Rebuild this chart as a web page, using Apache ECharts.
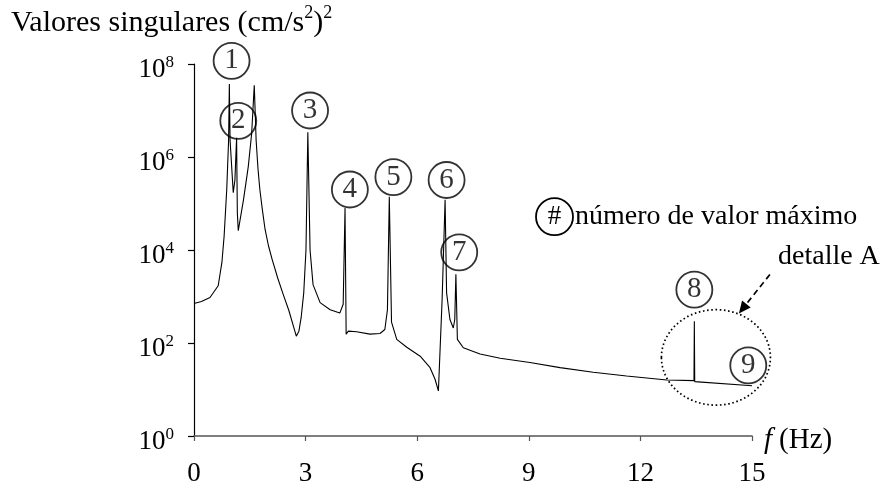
<!DOCTYPE html>
<html>
<head>
<meta charset="utf-8">
<script src="https://cdn.jsdelivr.net/npm/echarts@6/dist/echarts.min.js"></script>
<style>
  html, body { margin: 0; padding: 0; background: #fff; }
  #chart { width: 888px; height: 487px; }
</style>
</head>
<body>
<div id="chart"></div>
<script>
// ---- data ----
const freq = [0, 0.2, 0.43, 0.65, 0.75, 0.81, 0.88, 0.93, 0.95, 0.97, 1.055, 1.10, 1.145, 1.165, 1.19,
  1.33, 1.46, 1.55, 1.62, 1.67, 1.72, 1.77, 1.84, 1.91, 2.0, 2.1, 2.25, 2.4, 2.55, 2.68, 2.75, 2.82, 2.88, 2.95, 3.01, 3.06,
  3.12, 3.2, 3.39, 3.66, 3.92, 4.01, 4.06, 4.09, 4.15, 4.37, 4.73, 5.0, 5.13, 5.2, 5.25, 5.31,
  5.45, 5.72, 6.08, 6.34, 6.48, 6.57, 6.67, 6.75, 6.79, 6.88, 6.97, 7.01, 7.04, 7.08, 7.24,
  7.69, 8.23, 9.03, 9.84, 10.73, 11.63, 12.71, 13.44, 13.45, 13.46, 15];
const value = [710, 780, 950, 1700, 5400, 2.0e4, 2.0e5, 2.3e6, 3.7e7, 2.3e6, 1.7e5, 3.2e5, 2.6e6, 6.3e4, 2.6e4,
  1.2e5, 6.3e5, 3.2e6, 3.5e7, 2.3e6, 5.6e5, 2.0e5, 7.1e4, 2.8e4, 1.25e4, 6.3e3, 2.5e3, 1.1e3, 500, 220, 140, 180, 350, 1.2e3, 1.0e4, 3.4e6,
  1.0e4, 1800, 740, 520, 440, 680, 8.0e4, 155, 180, 175, 155, 160, 195, 520, 1.4e5, 280,
  120, 81, 52, 30, 16.6, 9.3, 870, 1.2e5, 1200, 320, 210, 320, 3000, 120, 79,
  58, 47, 38, 29.5, 23.5, 19.5, 16, 15.5, 295, 14.8, 12];

const markNames = ['1', '2', '3', '4', '5', '6', '7', '8', '9'];
const markFreq  = [1.01, 1.19, 3.12, 4.19, 5.36, 6.79, 7.13, 13.45, 14.9];
const markValue = [1.17e8, 6.0e6, 1.0e7, 2.0e5, 3.7e5, 3.2e5, 8.9e3, 1.4e3, 33];

const xTicks = [0, 3, 6, 9, 12, 15];
const yExponents = [0, 2, 4, 6, 8];

const detailCenter = [14.03, 49];   // centre of "detalle A" region (data coords)

const FONT = '"Liberation Serif", "Times New Roman", serif';

const chart = echarts.init(document.getElementById('chart'), null, { renderer: 'canvas' });

const option = {
  animation: false,
  backgroundColor: '#fff',
  grid: { left: 194, right: 136, top: 64, bottom: 50 },
  xAxis: {
    type: 'value',
    min: xTicks[0],
    max: xTicks[xTicks.length - 1],
    interval: xTicks[1] - xTicks[0],
    axisLine: { show: true, onZero: false, lineStyle: { color: '#555', width: 1.5 } },
    axisTick: { show: true, length: 5, lineStyle: { color: '#555', width: 1.2 } },
    axisLabel: { margin: 24, fontFamily: FONT, fontSize: 27, color: '#000' },
    splitLine: { show: false }
  },
  yAxis: {
    type: 'log',
    logBase: 10,
    min: Math.pow(10, yExponents[0]),
    max: Math.pow(10, yExponents[yExponents.length - 1]),
    interval: yExponents[1] - yExponents[0],
    axisLine: { show: true, lineStyle: { color: '#000', width: 1.2 } },
    axisTick: { show: true, length: 6, lineStyle: { color: '#000', width: 1.2 } },
    axisLabel: {
      margin: 20,
      padding: [12, 0, 0, 0],
      fontFamily: FONT,
      fontSize: 26,
      color: '#000',
      formatter: function (v) {
        return '{b|10}{s|' + Math.round(Math.log10(v)) + '}';
      },
      rich: {
        b: { fontFamily: FONT, fontSize: 27, lineHeight: 32, color: '#000' },
        s: { fontFamily: FONT, fontSize: 17, lineHeight: 16, verticalAlign: 'top', color: '#000' }
      }
    },
    splitLine: { show: false }
  },
  series: [
    {
      type: 'line',
      data: freq.map((f, i) => [f, value[i]]),
      showSymbol: false,
      symbol: 'none',
      lineStyle: { color: '#000', width: 1.1 },
      z: 2
    },
    {
      type: 'scatter',
      clip: false,
      data: markFreq.map((f, i) => ({ value: [f, markValue[i]], name: markNames[i] })),
      symbol: 'circle',
      symbolSize: 36,
      itemStyle: { color: 'rgba(0,0,0,0)', borderColor: '#000', borderWidth: 1.8 },
      label: {
        show: true,
        position: 'inside',
        formatter: p => p.name,
        fontFamily: FONT,
        fontSize: 29,
        color: '#000'
      },
      z: 3
    }
  ]
};
chart.setOption(option);

const c = chart.convertToPixel({ gridIndex: 0 }, detailCenter);
const cx = c[0], cy = c[1];
const tail = [cx + 54, cy - 83];
const tip = [cx + 23, cy - 44];
const ang = Math.atan2(tip[1] - tail[1], tip[0] - tail[0]);
const hl = 12, hw = 5.5;
const base = [tip[0] - hl * Math.cos(ang), tip[1] - hl * Math.sin(ang)];
const p1 = [base[0] + hw * Math.sin(ang), base[1] - hw * Math.cos(ang)];
const p2 = [base[0] - hw * Math.sin(ang), base[1] + hw * Math.cos(ang)];

chart.setOption({
  graphic: [
    {
      type: 'text', left: 11, top: 4,
      style: {
        text: '{b|Valores singulares (cm/s}{s|2}{b|)}{s|2}',
        rich: {
          b: { fontFamily: FONT, fontSize: 30, lineHeight: 38, fill: '#000' },
          s: { fontFamily: FONT, fontSize: 18, lineHeight: 18, verticalAlign: 'top', fill: '#000' }
        }
      }
    },
    {
      type: 'text', left: 764, top: 426,
      style: {
        text: '{i|f}{b|(Hz)}',
        rich: {
          i: { fontFamily: FONT, fontSize: 29, fontStyle: 'italic', fill: '#000' },
          b: { fontFamily: FONT, fontSize: 29, fill: '#000', padding: [0, 0, 0, 7] }
        }
      }
    },
    {
      type: 'circle', shape: { cx: 554.5, cy: 216.7, r: 18.5 },
      style: { fill: 'none', stroke: '#000', lineWidth: 1.8 }
    },
    {
      type: 'text', x: 554.5, y: 217,
      style: { text: '#', fontFamily: FONT, fontSize: 27, fill: '#000', align: 'center', verticalAlign: 'middle' }
    },
    {
      type: 'text', x: 575, y: 217,
      style: { text: 'número de valor máximo', fontFamily: FONT, fontSize: 28, fill: '#000', align: 'left', verticalAlign: 'middle' }
    },
    {
      type: 'text', x: 778, y: 257,
      style: { text: 'detalle A', fontFamily: FONT, fontSize: 28, fill: '#000', align: 'left', verticalAlign: 'middle' }
    },
    {
      type: 'ellipse', shape: { cx: cx, cy: cy, rx: 54.5, ry: 47.7 },
      style: { fill: 'none', stroke: '#000', lineWidth: 1.7, lineDash: [1.6, 2.6] }
    },
    {
      type: 'line', shape: { x1: tail[0], y1: tail[1], x2: base[0], y2: base[1] },
      style: { stroke: '#000', lineWidth: 1.7, lineDash: [6, 4] }
    },
    {
      type: 'polygon', shape: { points: [tip, p1, p2] },
      style: { fill: '#000' }
    }
  ]
});
</script>
</body>
</html>
